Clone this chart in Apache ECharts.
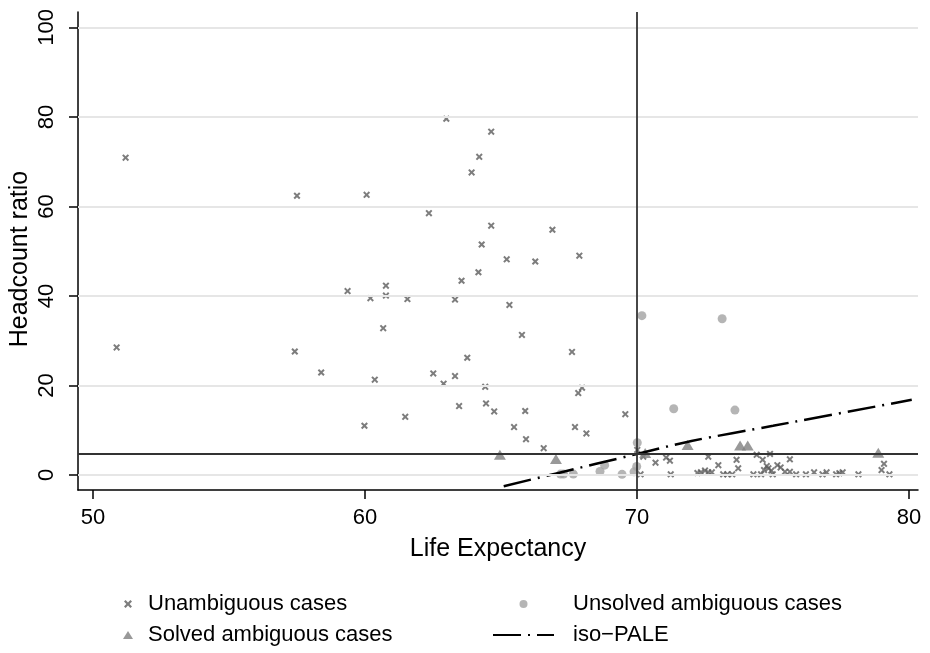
<!DOCTYPE html>
<html><head><meta charset="utf-8">
<script src="https://cdn.jsdelivr.net/npm/echarts@6/dist/echarts.min.js"></script>
<style>html,body{margin:0;padding:0;background:#fff}#c{width:930px;height:653px}</style>
</head><body><div id="c"></div>
<script>
const xTicks = [50, 60, 70, 80];
const yTicks = [0, 20, 40, 60, 80, 100];
const seriesNames = ['Unambiguous cases', 'Unsolved ambiguous cases', 'Solved ambiguous cases', 'iso\u2212PALE'];
const unambiguous = [
  [51.2,70.9],[50.87,28.5],[57.5,62.4],[60.06,62.6],[57.42,27.6],[58.39,22.9],[59.36,41.1],[60.2,39.5],[60.36,21.3],[59.98,11.0],
  [62.99,79.6],[64.64,76.7],[64.2,71.1],[63.92,67.6],[62.35,58.5],[64.64,55.7],[66.89,54.8],[64.29,51.5],[65.21,48.2],[66.26,47.7],
  [67.88,49.0],[64.17,45.3],[63.55,43.4],[60.77,42.3],[60.77,40.1],[61.56,39.3],[63.31,39.2],[65.31,38.0],[60.67,32.8],[65.77,31.3],
  [67.61,27.5],[63.76,26.2],[62.51,22.7],[62.89,20.4],[63.31,22.1],[64.42,19.7],[67.98,19.5],[67.84,18.3],[63.46,15.4],[64.45,16.0],
  [64.75,14.2],[65.89,14.3],[61.48,13.0],[69.57,13.6],[65.48,10.7],[67.72,10.7],[65.92,8.0],[68.14,9.3],[66.57,6.0],
  [70.01,5.6],[70.23,4.1],[70.68,2.75],[71.07,3.9],[71.21,3.2],[70.13,0.15],[71.24,0.15],[72.22,0.45],
  [72.62,4.1],[72.35,0.6],[72.5,1.0],[72.62,0.6],[72.75,0.6],[72.99,2.2],[73.17,0.15],[73.32,0.15],[73.5,0.15],[73.66,3.4],
  [73.72,1.5],[74.28,0.15],[74.4,4.5],[74.62,3.4],[74.89,4.7],[74.56,0.15],[74.77,2.0],[74.67,1.1],[74.83,1.5],[74.94,1.0],
  [74.99,0.15],[75.16,2.2],[75.28,1.7],[75.62,3.5],[75.44,0.7],[75.62,0.7],[75.85,0.15],
  [76.21,0.15],[76.51,0.6],[76.82,0.15],[76.97,0.6],[77.32,0.15],[77.44,0.4],[77.56,0.6],[78.14,0.15],[79.08,2.5],[78.99,1.1],[79.28,0.15]
];
const unsolved = [
  [70.18,35.6],[73.13,34.9],[71.35,14.8],[73.6,14.5],[70.01,7.2],[69.99,1.9],[69.89,0.7],[69.45,0.15],[68.64,0.8],[68.81,2.2],
  [67.66,0.2],[67.3,0.2],[67.19,0.2]
];
const solved = [
  [64.96,4.5],[67.02,3.6],[70.3,4.9],[71.86,6.7],[73.79,6.6],[74.07,6.6],[78.87,5.0]
];
const isoPale = [[65.1,-2.5],[67,0.3],[70,4.7],[72,7.6],[75,11.0],[80.1,16.8]];
const refX = 70;
const refY = 4.7;

const FONT = "'Liberation Sans', Arial, Helvetica, sans-serif";
const xMark = 'path://M0,2 L2,0 L5,3 L8,0 L10,2 L7,5 L10,8 L8,10 L5,7 L2,10 L0,8 L3,5 Z';

const chart = echarts.init(document.getElementById('c'), null, {renderer: 'canvas'});
const txt = {color: '#000', fontFamily: FONT, fontSize: 22};
const titleTxt = {color: '#000', fontFamily: FONT, fontSize: 25};

chart.setOption({
  animation: false,
  backgroundColor: '#fff',
  grid: {left: 78, right: 12, top: 12, bottom: 163, containLabel: false, outerBoundsMode: 'none'},
  xAxis: {
    type: 'value', min: 49.45, max: 80.33,
    axisLine: {show: true, onZero: false, lineStyle: {color: '#000', width: 1.5}},
    axisTick: {show: true, length: 9, customValues: xTicks, lineStyle: {color: '#000', width: 1.5}},
    axisLabel: Object.assign({customValues: xTicks, margin: 17}, txt),
    splitLine: {show: false},
    name: 'Life Expectancy', nameLocation: 'middle', nameGap: 47, nameMoveOverlap: false,
    nameTextStyle: titleTxt
  },
  yAxis: {
    type: 'value', min: -3.35, max: 103.45,
    axisLine: {show: true, onZero: false, lineStyle: {color: '#000', width: 1.5}},
    axisTick: {show: true, length: 9, customValues: yTicks, lineStyle: {color: '#000', width: 1.5}},
    axisLabel: Object.assign({customValues: yTicks, margin: 20, rotate: 90}, txt),
    splitLine: {show: false},
    name: 'Headcount ratio', nameLocation: 'middle', nameGap: 45, nameMoveOverlap: false,
    nameTextStyle: Object.assign({padding: [0, 16, 0, 0]}, titleTxt)
  },
  legend: [
    {
      data: [seriesNames[0], seriesNames[2]], orient: 'vertical', left: 123, top: 593, padding: 0,
      itemWidth: 10, itemHeight: 8, itemGap: 9, textStyle: Object.assign({padding: [0, 0, 0, 10]}, txt), selectedMode: false
    },
    {
      data: [seriesNames[1], {name: seriesNames[3], itemStyle: {opacity: 0}}], orient: 'vertical', left: 492, top: 593, padding: 0,
      itemWidth: 61, itemHeight: 8, itemGap: 9, textStyle: Object.assign({padding: [0, 0, 0, 14]}, txt), selectedMode: false
    }
  ],
  series: [
    {
      type: 'scatter', name: 'grid', data: [], z: 0, silent: true,
      markLine: {
        silent: true, symbol: 'none', label: {show: false}, animation: false,
        data: yTicks.map(v => ({yAxis: v, lineStyle: {color: '#e6e6e6', width: 2, type: 'solid'}}))
          .concat([
            {xAxis: refX, lineStyle: {color: '#333', width: 1.8, type: 'solid'}},
            {yAxis: refY, lineStyle: {color: '#333', width: 2, type: 'solid'}}
          ])
      }
    },
    {
      type: 'scatter', name: seriesNames[0], data: unambiguous, z: 3,
      symbol: xMark, symbolSize: 7, itemStyle: {color: '#5c5c5c'}
    },
    {
      type: 'scatter', name: seriesNames[1], data: unsolved, z: 3,
      symbol: 'circle', symbolSize: 9, itemStyle: {color: '#a3a3a3'}
    },
    {
      type: 'scatter', name: seriesNames[2], data: solved, z: 3,
      symbol: 'triangle', symbolSize: [12, 10], itemStyle: {color: '#808080'}
    },
    {
      type: 'line', name: seriesNames[3], data: isoPale, z: 4, symbol: 'none', smooth: 0.3,
      lineStyle: {color: '#000', width: 2.5, type: [28, 7, 2, 7]}, itemStyle: {color: '#000'}
    }
  ]
});
</script>
</body></html>
